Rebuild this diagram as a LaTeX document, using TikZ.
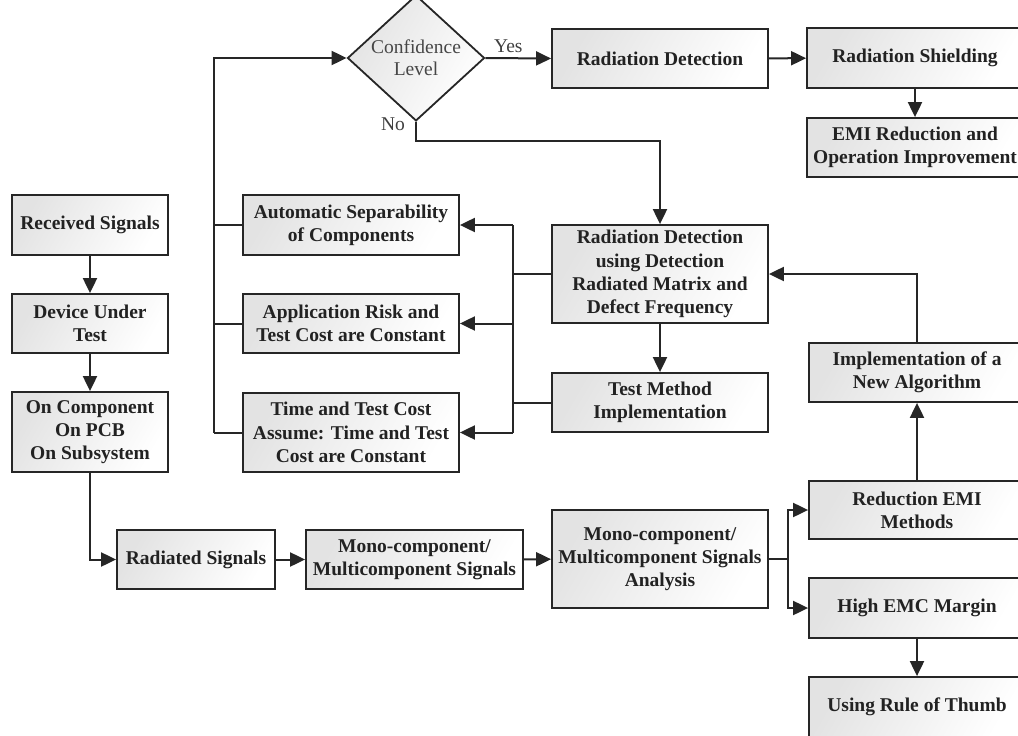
\documentclass[tikz,border=0pt]{standalone}
\usepackage{fontspec}
\setmainfont{Liberation Serif}
\usetikzlibrary{arrows.meta,shapes.geometric}
\definecolor{ink}{HTML}{262626}
\definecolor{txt}{HTML}{222222}
\begin{document}
\begin{tikzpicture}[x=1pt,y=-1pt,
  box/.style={draw=ink, line width=1.8pt, left color=black!11, right color=white, shading angle=60,
    font=\bfseries\fontsize{19.5}{23.3}\selectfont, text=txt, align=center, inner sep=0pt},
  arr/.style={draw=ink, line width=2pt, -{Triangle[length=15pt,width=14pt]}},
  ln/.style={draw=ink, line width=2pt},
  lbl/.style={font=\fontsize{19.5}{22}\selectfont, text=black!75}]
\useasboundingbox (0,0) rectangle (1018,736);

% left column
\node[box, minimum width=156, minimum height=60] (rs) at (90,225) {Received Signals};
\node[box, minimum width=156, minimum height=59] (dut) at (90,323.5) {Device Under\\Test};
\node[box, minimum width=156, minimum height=80] (oc) at (90,432) {On Component\\On PCB\\On Subsystem};

% bottom row
\node[box, minimum width=158, minimum height=59] (rad) at (196,559.5) {Radiated Signals};
\node[box, minimum width=217, minimum height=59] (mono) at (414.5,559.5) {Mono-component/\\Multicomponent Signals};
\node[box, minimum width=216, minimum height=98] (ana) at (660,559) {Mono-component/\\Multicomponent Signals\\Analysis};

% right column
\node[box, minimum width=216, minimum height=58] (red) at (917,510) {Reduction EMI\\Methods};
\node[box, minimum width=216, minimum height=60] (emc) at (917,608) {High EMC Margin};
\node[box, minimum width=216, minimum height=60] (rot) at (917,707) {Using Rule of Thumb};
\node[box, minimum width=216, minimum height=59] (alg) at (917,372.5) {Implementation of a\\New Algorithm};

% middle
\node[box, minimum width=216, minimum height=98] (rdm) at (660,274) {Radiation Detection\\using Detection\\Radiated Matrix and\\Defect Frequency};
\node[box, minimum width=216, minimum height=59] (tmi) at (660,402.5) {Test Method\\Implementation};

\node[box, minimum width=216, minimum height=60] (asc) at (351,225) {Automatic Separability\\of Components};
\node[box, minimum width=216, minimum height=59] (arc) at (351,323.5) {Application Risk and\\Test Cost are Constant};
\node[box, minimum width=216, minimum height=79] (ttc) at (351,432.5) {Time and Test Cost\\Assume: Time and Test\\Cost are Constant};

% top
\node[diamond, draw=ink, line width=1.8pt, left color=black!11, right color=white, shading angle=60,
  minimum width=137, minimum height=102, inner sep=0pt, align=center,
  font=\fontsize{19.5}{22}\selectfont, text=black!72] (conf) at (416,58) {Confidence\\Level};
\node[box, minimum width=216, minimum height=59] (rd) at (660,58.5) {Radiation Detection};
\node[box, minimum width=216, minimum height=60] (sh) at (915,58) {Radiation Shielding};
\node[box, minimum width=216, minimum height=59] (emi) at (915,147.5) {EMI Reduction and\\Operation Improvement};

% connectors
\draw[arr] (rs) -- (dut);
\draw[arr] (dut) -- (oc);
\draw[arr] (oc.south) |- (rad.west);
\draw[arr] (rad) -- (mono);
\draw[arr] (mono) -- (ana);
\coordinate (sp) at (788,559);
\draw[ln] (ana.east) -- (sp);
\draw[arr] (sp) |- (red.west);
\draw[arr] (sp) |- (emc.west);
\draw[arr] (emc) -- (rot);
\draw[arr] (red) -- (alg);
\draw[arr] (alg.north) |- (rdm.east);
\draw[arr] (rdm) -- (tmi);

% right bus
\coordinate (rb) at (513,274);
\draw[ln] (rdm.west) -- (rb);
\draw[ln] (tmi.west) -- (513,402.5);
\draw[ln] (513,225) -- (513,432.5);
\draw[arr] (513,225) -- (asc.east);
\draw[arr] (513,323.5) -- (arc.east);
\draw[arr] (513,432.5) -- (ttc.east);

% left bus
\draw[ln] (asc.west) -- (214,225);
\draw[ln] (arc.west) -- (214,323.5);
\draw[ln] (ttc.west) -- (214,432.5);
\draw[arr] (214,432.5) |- (conf.west);

% decision
\draw[arr] (conf.east) -- node[lbl, above=1pt, pos=0.35] {Yes} (rd.west);
\draw[arr] (conf.south) |- (660,141) -- (rdm.north);
\node[lbl] (no) at (393,124) {No};
\draw[arr] (rd) -- (sh);
\draw[arr] (sh) -- (emi);
\end{tikzpicture}
\end{document}
